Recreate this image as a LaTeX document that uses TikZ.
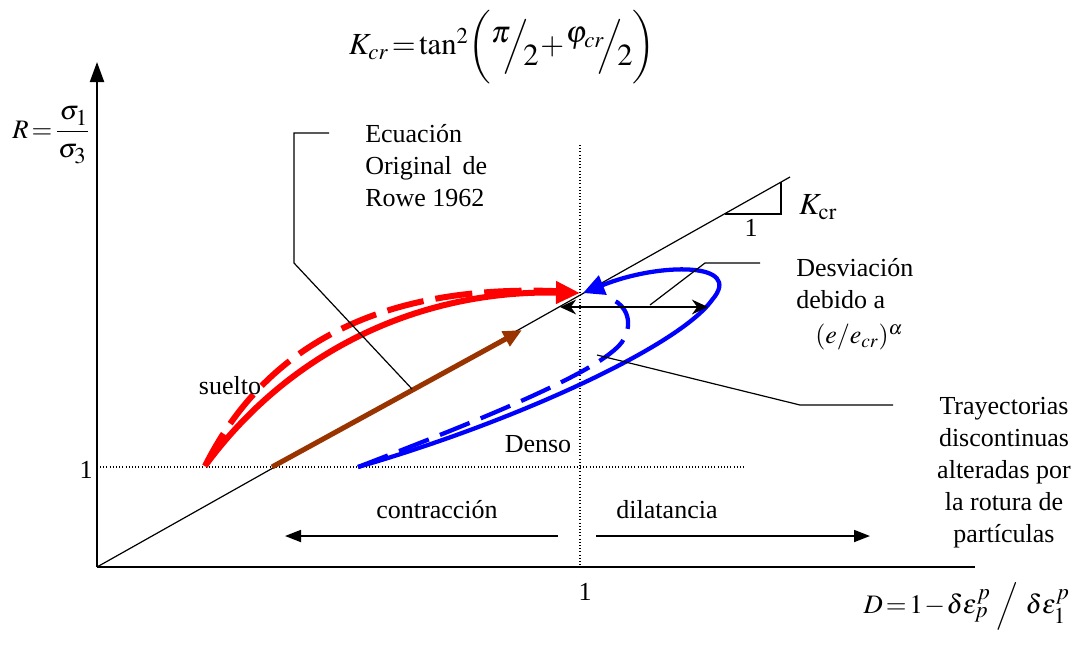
\documentclass[tikz,border=0pt]{standalone}
\usepackage{mathptmx}
\usepackage{fontspec}
\setmainfont{Liberation Serif}
\usetikzlibrary{arrows.meta}
\DeclareMathSizes{24}{24}{18}{14}
\DeclareMathSizes{20}{20}{17}{13}
\DeclareMathSizes{23}{23}{17}{13}
\definecolor{brownarrow}{RGB}{153,51,0}
\newcommand\slfr[2]{\raisebox{9pt}{$#1$}\mkern-6mu\left/\rule[-9pt]{0pt}{32pt}\right.\mkern-6mu\raisebox{-8pt}{$#2$}}
\newcommand\tightmath{\thickmuskip=2mu\medmuskip=1mu}
\tikzset{
  lbl/.style={inner sep=0pt, font=\fontsize{19.5}{24}\selectfont},
  fml/.style={inner sep=0pt, font=\fontsize{23}{28}\selectfont\tightmath},
  fmls/.style={inner sep=0pt, font=\fontsize{20}{24}\selectfont\tightmath},
  axis/.style={line width=1.6pt},
  thin/.style={line width=0.9pt},
  dots/.style={line width=0.8pt, dash pattern=on 0.8pt off 1.6pt},
  thick red/.style={red, line width=4.5pt},
  thick blue/.style={blue, line width=3.2pt},
}
\begin{document}
\begin{tikzpicture}[x=0.75pt,y=-0.75pt]
\useasboundingbox (0,0) rectangle (1077,644);
% coordinates
\coordinate (O) at (97,567);
\coordinate (Ytop) at (97,62);
\coordinate (Xend) at (975,567);
\coordinate (Kend) at (790,177);
\coordinate (P) at (580,293);
% axes
\draw[axis,-{Triangle[length=15pt,width=10.5pt]}] (O) -- (Ytop);
\draw[axis] (O) -- (Xend);
% Kcr line and triangle
\draw[thin] (O) -- (Kend);
\coordinate (T1) at (725,214);
\coordinate (T2) at (781,214);
\coordinate (T3) at (781,182);
\draw[thin] (T1) -- (T2) -- (T3);
% dotted guide lines
\coordinate (H1) at (100,467);
\coordinate (H2) at (745,467);
\draw[dots] (H1) -- (H2);
\coordinate (V1) at (580,145);
\coordinate (V2) at (580,567);
\draw[dots] (V1) -- (V2);
% red curves
\coordinate (R0) at (205,466);
\draw[thick red, dash pattern=on 28pt off 9pt] (R0) .. controls (270,336) and (396,281) .. (574,292);
\draw[thick red, -{Triangle[length=18pt,width=16pt]}] (R0) .. controls (290,350) and (420,290) .. (P);
% brown arrow
\coordinate (B0) at (272,467);
\coordinate (B1) at (522,330);
\draw[brownarrow, line width=3.8pt, -{Triangle[length=14pt,width=12pt]}] (B0) -- (B1);
% blue curves
\coordinate (U0) at (358,467);
\draw[thick blue, dash pattern=on 24pt off 9pt] (U0) .. controls (480,420) and (600,372) .. (622,342) .. controls (635,322) and (625,305) .. (613,300);
\draw[thick blue, -{Triangle[length=16pt,width=15pt]}] (U0) .. controls (520,420) and (680,345) .. (712,300) .. controls (745,262) and (660,262) .. (583,293);
% double arrow
\coordinate (DA) at (560,307);
\coordinate (DB) at (708,307);
\draw[line width=1.6pt, {Stealth[length=12pt,width=11pt]}-{Stealth[length=12pt,width=11pt]}] (DA) -- (DB);
% contraction / dilatancy arrows
\coordinate (C1) at (558,536);
\coordinate (C2) at (285,536);
\coordinate (D1) at (596,536);
\coordinate (D2) at (870,536);
\draw[line width=1.3pt, -{Triangle[length=12pt,width=9pt]}] (C1) -- (C2);
\draw[line width=1.3pt, -{Triangle[length=12pt,width=9pt]}] (D1) -- (D2);
% leader lines
\coordinate (L1a) at (329,133);
\coordinate (L1b) at (294,133);
\coordinate (L1c) at (294,263);
\coordinate (L1d) at (412,389);
\draw[thin] (L1a) -- (L1b) -- (L1c) -- (L1d);
\coordinate (L2a) at (650,305);
\coordinate (L2b) at (705,263);
\coordinate (L2c) at (760,263);
\draw[thin] (L2a) -- (L2b) -- (L2c);
\coordinate (L3a) at (597,355);
\coordinate (L3b) at (800,405);
\coordinate (L3c) at (893,405);
\draw[thin] (L3a) -- (L3b) -- (L3c);
% labels
\node[lbl, anchor=west, align=left] (rowe) at (365,166) {Ecuación\\Original\, de\\Rowe 1962};
\node[lbl, anchor=west, align=left] (desv) at (796,284) {Desviación\\debido a};
\node[lbl, anchor=west] (ee) at (815,337) {$(\mathit{e}/\mathit{e}_{cr})^{\alpha}$};
\node[lbl, anchor=center, align=center] (tray) at (1004,473) {Trayectorias\\discontinuas\\alteradas por\\la rotura de\\partículas};
\node[lbl] (suelto) at (230,386) {suelto};
\node[lbl] (denso) at (538,444) {Denso};
\node[lbl] (contr) at (437,510) {contracción};
\node[lbl] (dilat) at (667,510) {dilatancia};
\node[lbl] (one1) at (86,470) {1};
\node[lbl] (one2) at (585,592) {1};
\node[lbl] (one3) at (751,228) {1};
\node[inner sep=0pt, font=\fontsize{23}{28}\selectfont] (kcr) at (818,207) {$K_{\mathrm{cr}}$};
\node[fmls, anchor=base west] (R) at (12,138) {$\displaystyle R=\frac{\,\sigma_1\rule[-2pt]{0pt}{8pt}}{\sigma_3\rule{0pt}{17pt}}$};
\node[fml] (Kf) at (502,47) {$K_{cr}=\tan^{2}\!\left(\rule[-18pt]{0pt}{46pt}\slfr{\pi}{2}+\slfr{\varphi_{cr}}{2}\right)$};
\node[fmls, anchor=base east] (Dl) at (1070,613) {$D=1-\delta\varepsilon^{p}_{p}\mkern2mu\left/\rule[-10pt]{0pt}{28pt}\right.\mkern2mu\delta\varepsilon^{p}_{1}$};
\end{tikzpicture}
\end{document}
